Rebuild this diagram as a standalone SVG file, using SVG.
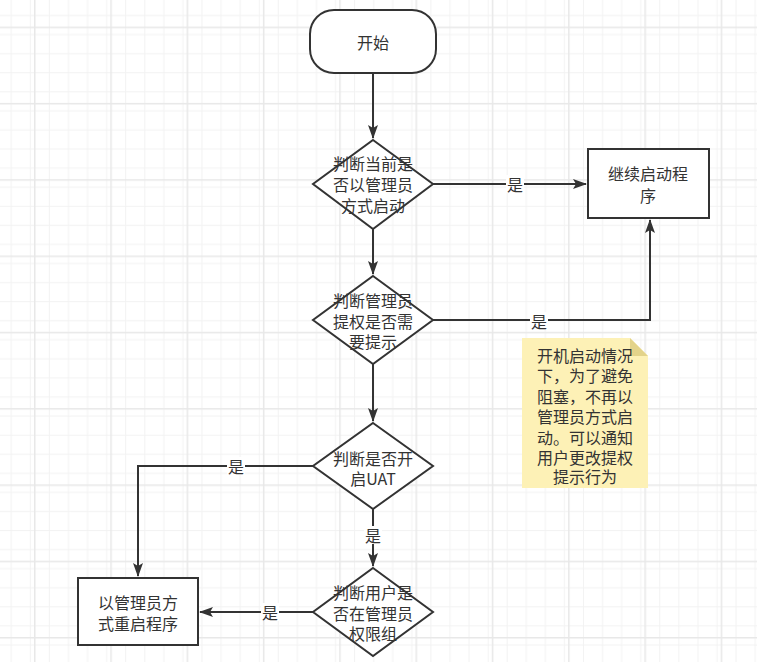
<svg xmlns="http://www.w3.org/2000/svg" width="757" height="662" viewBox="0 0 757 662">
<defs>
<pattern id="minor" patternUnits="userSpaceOnUse" x="34" y="26.6" width="19.075" height="19.075">
<path d="M0 0.5H19.075M0.5 0V19.075" fill="none" stroke="#f2f2f2" stroke-width="1"/>
</pattern>
<pattern id="major" patternUnits="userSpaceOnUse" x="34" y="26.6" width="76.3" height="76.3">
<rect width="76.3" height="76.3" fill="url(#minor)"/>
<path d="M0 0.75H76.3M0.75 0V76.3" fill="none" stroke="#e8e8e8" stroke-width="1.5"/>
</pattern>
<marker id="arr" viewBox="0 0 14 10" refX="13" refY="5" markerWidth="14" markerHeight="10" markerUnits="userSpaceOnUse" orient="auto">
<path d="M0,0 L14,5 L0,10 L3,5 z" fill="#333333"/>
</marker>
<style>
.shape{fill:#ffffff;stroke:#333333;stroke-width:2}
.edge{fill:none;stroke:#333333;stroke-width:2}
.t{font-family:"Noto Sans CJK SC","Liberation Sans",sans-serif;font-size:16px;fill:#333333;text-anchor:middle;dominant-baseline:central}
.lbl{fill:#ffffff}
</style>
</defs>
<rect width="757" height="662" fill="#ffffff"/>
<rect width="757" height="662" fill="url(#major)"/>

<g id="connectors">
<path class="edge" d="M373 73V138" marker-end="url(#arr)"/>
<path class="edge" d="M433 184H586" marker-end="url(#arr)"/>
<path class="edge" d="M373 229V274" marker-end="url(#arr)"/>
<path class="edge" d="M433 320H650V220" marker-end="url(#arr)"/>
<path class="edge" d="M373 364V421" marker-end="url(#arr)"/>
<path class="edge" d="M313 466H138V576" marker-end="url(#arr)"/>
<path class="edge" d="M373 509V566" marker-end="url(#arr)"/>
<path class="edge" d="M313 612H200" marker-end="url(#arr)"/>
<rect class="lbl" x="506" y="175" width="18" height="18"/>
<text class="t" x="515" y="184">是</text>
<rect class="lbl" x="530" y="312" width="18" height="18"/>
<text class="t" x="539" y="321">是</text>
<rect class="lbl" x="227" y="457" width="18" height="18"/>
<text class="t" x="236" y="466">是</text>
<rect class="lbl" x="364" y="526" width="18" height="18"/>
<text class="t" x="373" y="535">是</text>
<rect class="lbl" x="261" y="603" width="18" height="18"/>
<text class="t" x="270" y="612">是</text>
</g>

<g id="start">
<rect class="shape" x="310" y="10" width="126" height="63" rx="24" ry="24"/>
<text class="t" x="373" y="42">开始</text>
</g>

<g id="d1">
<path class="shape" d="M373 140L433 184L373 229L313 184Z"/>
<text class="t" x="373" y="163">判断当前是</text>
<text class="t" x="373" y="184">否以管理员</text>
<text class="t" x="373" y="205">方式启动</text>
</g>

<g id="continue">
<rect class="shape" x="588" y="149" width="121" height="69"/>
<text class="t" x="648" y="173">继续启动程</text>
<text class="t" x="648" y="195">序</text>
</g>

<g id="d2">
<path class="shape" d="M373 276L433 320L373 364L313 320Z"/>
<text class="t" x="373" y="300">判断管理员</text>
<text class="t" x="373" y="321">提权是否需</text>
<text class="t" x="373" y="341">要提示</text>
</g>

<g id="note">
<path d="M522 338H630L648 356V488H522Z" fill="#fdf1b6"/>
<path d="M630 338L648 356H630Z" fill="#e3d38a"/>
<text class="t" x="585" y="355">开机启动情况</text>
<text class="t" x="585" y="375">下，为了避免</text>
<text class="t" x="585" y="396">阻塞，不再以</text>
<text class="t" x="585" y="416">管理员方式启</text>
<text class="t" x="585" y="437">动。可以通知</text>
<text class="t" x="585" y="457">用户更改提权</text>
<text class="t" x="585" y="476">提示行为</text>
</g>

<g id="d3">
<path class="shape" d="M373 423L433 466L373 509L313 466Z"/>
<text class="t" x="373" y="458">判断是否开</text>
<text class="t" x="373" y="478">启UAT</text>
</g>

<g id="d4">
<path class="shape" d="M373 568L433 612L373 656L313 612Z"/>
<text class="t" x="373" y="592">判断用户是</text>
<text class="t" x="373" y="613">否在管理员</text>
<text class="t" x="373" y="633">权限组</text>
</g>

<g id="restart">
<rect class="shape" x="78" y="578" width="120" height="67"/>
<text class="t" x="138" y="602">以管理员方</text>
<text class="t" x="138" y="623">式重启程序</text>
</g>
</svg>
